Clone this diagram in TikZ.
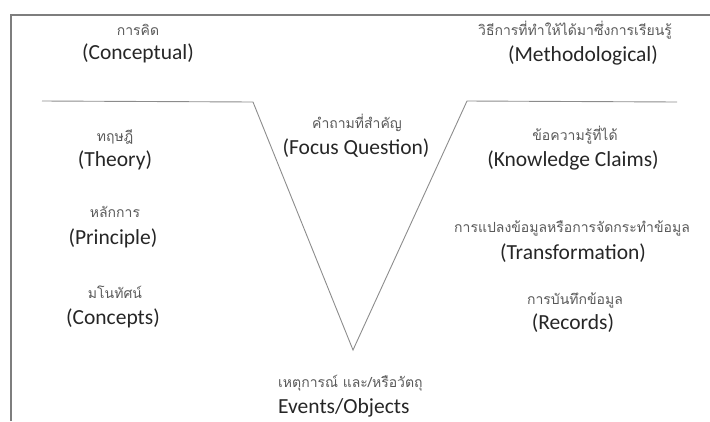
\documentclass[tikz,border=0pt]{standalone}
\usepackage{fontspec}
\setmainfont{Carlito}
\newfontfamily\thaifont[Script=Thai]{Loma}
\usepackage{tikz}
\usetikzlibrary{positioning}

\definecolor{linegray}{HTML}{8C8C8C}
\definecolor{engtext}{HTML}{262626}
\definecolor{thaitext}{HTML}{595959}

\begin{document}
\begin{tikzpicture}[
  x=1pt, y=-1pt,
  thai/.style={inner sep=0pt, text=thaitext, font=\thaifont\fontsize{14}{16}\selectfont},
  eng/.style={inner sep=0pt, text=engtext, font=\fontsize{21.5}{24}\selectfont},
  vline/.style={draw=linegray, line width=0.9pt},
  frame/.style={draw=linegray!90!black, line width=1.2pt},
]
  \useasboundingbox (0,0) rectangle (710,421);

  % Frame
  \draw[frame] (11,421) -- (11,15) -- (710,15);

  % Vee
  \coordinate (lt) at (42,101);
  \coordinate (lc) at (253,102);
  \coordinate (tip) at (353,350);
  \coordinate (rc) at (467,101);
  \coordinate (rt) at (677,102);
  \draw[vline] (lt) -- (lc) -- (tip) -- (rc) -- (rt);

  % Left side
  \node[thai] (concth) at (138,30) {การคิด};
  \node[eng]  (conc)   at (138,53) {(Conceptual)};
  \node[thai] (theoth) at (115,137) {ทฤษฎี};
  \node[eng]  (theo)   at (115,160) {(Theory)};
  \node[thai] (prinh)  at (115,212) {หลักการ};
  \node[eng]  (prin)   at (113,238) {(Principle)};
  \node[thai] (cptth)  at (115,292) {มโนทัศน์};
  \node[eng]  (cpt)    at (113,318) {(Concepts)};

  % Centre
  \node[thai] (focth)  at (357,123) {คำถามที่สำคัญ};
  \node[eng]  (foc)    at (356,148) {(Focus Question)};
  \node[thai, anchor=west] (evth) at (278,383) {เหตุการณ์ และ/หรือวัตถุ};
  \node[eng, anchor=west]  (ev)   at (278,408) {Events/Objects};

  % Right side
  \node[thai] (methth) at (575,30) {วิธีการที่ทำให้ได้มาซึ่งการเรียนรู้};
  \node[eng]  (meth)   at (583,55) {(Methodological)};
  \node[thai] (knowth) at (575,135) {ข้อความรู้ที่ได้};
  \node[eng]  (know)   at (573,160) {(Knowledge Claims)};
  \node[thai] (trth)   at (572,228) {การแปลงข้อมูลหรือการจัดกระทำข้อมูล};
  \node[eng]  (tr)     at (573,253) {(Transformation)};
  \node[thai] (recth)  at (575,300) {การบันทึกข้อมูล};
  \node[eng]  (rec)    at (573,323) {(Records)};
\end{tikzpicture}
\end{document}
